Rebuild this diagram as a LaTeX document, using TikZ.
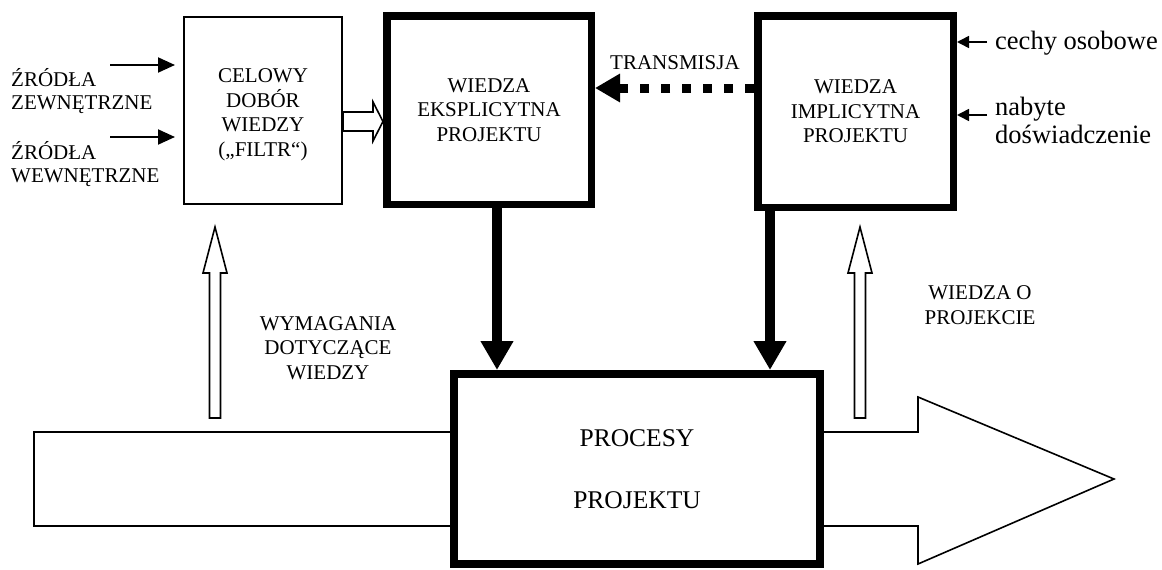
\documentclass[tikz,border=0pt]{standalone}
\usepackage{fontspec}
\setmainfont{Liberation Serif}
\usetikzlibrary{arrows.meta,calc}
\newcommand\hollowup[1]{%
  \draw[outline] (#1-5.5,418) -- (#1-5.5,273) -- (#1-12,273) -- (#1,227) -- (#1+12,273) -- (#1+5.5,273) -- (#1+5.5,418) -- cycle;}
\begin{document}
\begin{tikzpicture}[x=1pt,y=-1pt,
  capsfont/.style={font=\fontsize{21}{24.5}\selectfont},
  thinbox/.style={draw,line width=1.6pt,inner sep=0pt,align=center,capsfont},
  thickbox/.style={draw,line width=7.5pt,inner sep=0pt,align=center,capsfont},
  lbl/.style={inner sep=0pt,align=center,capsfont},
  srclbl/.style={inner sep=0pt,align=left,anchor=west,font=\fontsize{21}{22.5}\selectfont},
  lowtext/.style={inner sep=0pt,align=left,font=\fontsize{26.5}{28}\selectfont},
  smallarrow/.style={line width=2pt,-{Triangle[length=17pt,width=15pt]}},
  sidearrow/.style={line width=1.6pt,-{Triangle[length=12pt,width=12pt]}},
  bigdown/.style={line width=10pt,-{Triangle[length=29pt,width=31pt]}},
  transarrow/.style={line width=9pt,dash pattern=on 9pt off 12pt,-{Triangle[length=25pt,width=27pt]}},
  outline/.style={draw,line width=1.6pt,line join=miter,fill=white},
  flow/.style={draw,line width=1.6pt,line join=miter},
]
\useasboundingbox (0,0) rectangle (1162,570);

% main flow arrow
\draw[flow] (450,432) -- (34,432) -- (34,526) -- (450,526);
\draw[flow] (824,432) -- (918,432) -- (918,397) -- (1114,479) -- (918,564) -- (918,526) -- (824,526);

% boxes
\node[thinbox,minimum width=158.4pt,minimum height=187.4pt] (filter) at (263,110.5) {};
\node[lbl] (filtertxt) at (263,115) {CELOWY\\DOBÓR\\WIEDZY\\(„FILTR“)};
\node[thickbox,minimum width=204.5pt,minimum height=188.5pt] (eks) at (489,110)
  {WIEDZA\\EKSPLICYTNA\\PROJEKTU};
\node[thickbox,minimum width=195.5pt,minimum height=191.5pt] (impl) at (855.5,111.5)
  {WIEDZA\\IMPLICYTNA\\PROJEKTU};
\node[draw,line width=8pt,fill=white,inner sep=0pt,align=center,
  font=\fontsize{25.5}{62}\selectfont,minimum width=366pt,minimum height=190pt] (proc) at (637,469)
  {PROCESY\\PROJEKTU};

% left sources
\node[srclbl] (zew) at (11,91) {ŹRÓDŁA\\ZEWNĘTRZNE};
\node[srclbl] (wew) at (11,164) {ŹRÓDŁA\\WEWNĘTRZNE};
\coordinate (zt) at (110,65);
\coordinate (wt) at (110,137);
\draw[smallarrow,shorten >=8pt] (zt) -- (zt -| filter.west);
\draw[smallarrow,shorten >=8pt] (wt) -- (wt -| filter.west);

% right inputs
\node[lowtext,anchor=base west] (cech) at (995,49) {cechy osobowe};
\node[lowtext,anchor=north west] (nab) at (995,97) {nabyte\\doświadczenie};
\coordinate (ct) at (987,42);
\coordinate (nt) at (987,115);
\draw[sidearrow] (ct) -- (ct -| impl.east);
\draw[sidearrow] (nt) -- (nt -| impl.east);

% filter -> explicit (hollow)
\draw[outline] ([yshift=-11pt]filter.east) ++(0,-9.5) -- ++(30,0) -- ++(0,-10) -- ++(10,19.5)
  -- ++(-10,19.5) -- ++(0,-10) -- ++(-30,0) -- cycle;

% transmission
\node[lbl] (trans) at (675,63) {TRANSMISJA};
\draw[transarrow] ([yshift=23.5pt]impl.west) -- ([yshift=23.5pt]impl.west -| eks.east);

% down arrows into process
\draw[bigdown] ([xshift=8pt]eks.south) -- ([xshift=8pt]eks.south |- proc.north);
\draw[bigdown] ([xshift=16pt]impl.south west) -- ([xshift=16pt]impl.south west |- proc.north);

% hollow up arrows
\hollowup{215}
\hollowup{860}
\node[lbl] (wym) at (328,348) {WYMAGANIA\\DOTYCZĄCE\\WIEDZY};
\node[lbl] (wop) at (980,305) {WIEDZA O\\PROJEKCIE};
\end{tikzpicture}
\end{document}
